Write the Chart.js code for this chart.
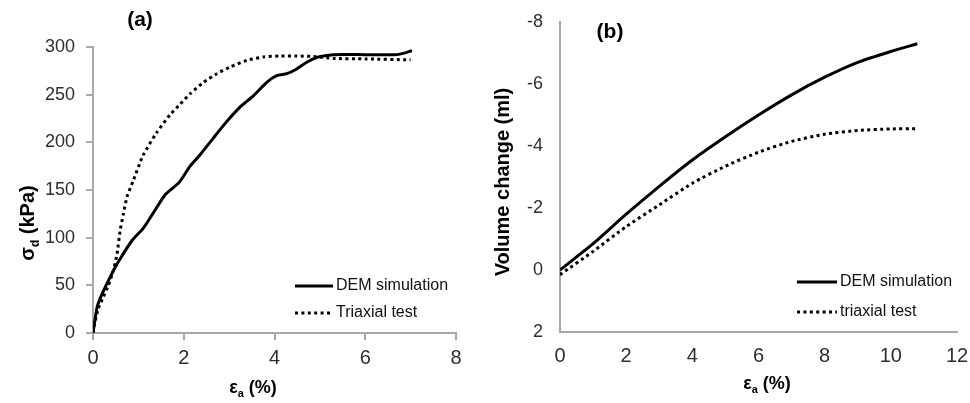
<!DOCTYPE html>
<html>
<head>
<meta charset="utf-8">
<script src="https://cdn.jsdelivr.net/npm/chart.js@4.4.1/dist/chart.umd.min.js"></script>
<style>
  html, body { margin: 0; padding: 0; background: #fff; }
  #wrap { position: relative; width: 970px; height: 403px; }
  .panel { position: absolute; top: 0; height: 403px; }
  #panelA { left: 0; width: 480px; }
  #panelB { left: 480px; width: 490px; }
</style>
</head>
<body>
<div id="wrap">
  <div class="panel" id="panelA"><canvas id="chartA"></canvas></div>
  <div class="panel" id="panelB"><canvas id="chartB"></canvas></div>
</div>
<script>
// panel (a): deviator stress vs axial strain
const strainDemA = [0, 0.09, 0.2, 0.34, 0.49, 0.64, 0.86, 1.11, 1.33, 1.59, 1.9, 2.14, 2.36, 2.66, 2.95, 3.24, 3.54, 3.83, 4.05, 4.27, 4.49, 4.71, 4.93, 5.15, 5.3, 6.0, 6.7, 7.03];
const stressDemA = [0, 27, 41, 55, 69, 81, 97, 110, 126, 145, 158, 175, 187, 205, 222, 237, 249, 263, 270, 272, 277, 284, 289, 291, 292, 292, 292, 296];
const strainTestA = [0, 0.05, 0.12, 0.23, 0.34, 0.45, 0.53, 0.6, 0.67, 0.75, 0.89, 1.1, 1.4, 1.7, 1.92, 2.14, 2.44, 2.73, 3.02, 3.39, 3.76, 4.13, 4.49, 4.86, 5.3, 6.0, 7.0];
const stressTestA = [0, 13, 26, 38, 50, 66, 83, 108, 125, 143, 160, 186, 210, 229, 240, 251, 263, 272, 279, 286, 289.6, 290.6, 290.6, 290, 288, 287.5, 286.5];
const xTicksA = [0, 2, 4, 6, 8];
const yTicksA = [0, 50, 100, 150, 200, 250, 300];

// panel (b): volume change vs axial strain
const strainB = [0, 1, 2, 3, 4, 5, 6, 7, 8, 9, 10, 10.8];
const volumeDemB = [0, -0.85, -1.8, -2.7, -3.55, -4.3, -5.0, -5.65, -6.22, -6.7, -7.05, -7.3];
const volumeTestB = [0.15, -0.6, -1.4, -2.1, -2.8, -3.35, -3.8, -4.15, -4.38, -4.5, -4.55, -4.56];
const xTicksB = [0, 2, 4, 6, 8, 10, 12];
const yTicksB = [-8, -6, -4, -2, 0, 2];

const fontFamily = "'Liberation Sans', Arial, sans-serif";
const axisGrey = "#a8a8a8";
const tickColor = "#2e2e2e";

function toPoints(xs, ys) {
  return xs.map((x, i) => ({ x, y: ys[i] }));
}

function drawTitle(ctx, t, rotate) {
  const big = `bold ${t.size}px ${fontFamily}`;
  const small = `bold ${Math.round(t.size * 0.62)}px ${fontFamily}`;
  ctx.font = big;
  const w1 = ctx.measureText(t.main).width;
  const w3 = ctx.measureText(t.rest || "").width;
  ctx.font = small;
  const w2 = ctx.measureText(t.sub || "").width;
  const total = w1 + w2 + w3;

  ctx.save();
  ctx.translate(t.x, t.y);
  if (rotate) {
    ctx.rotate(-Math.PI / 2);
  }
  ctx.textAlign = "left";
  ctx.textBaseline = "alphabetic";
  ctx.fillStyle = "#000";
  const base = t.size * 0.36;
  let x = -total / 2;
  ctx.font = big;
  ctx.fillText(t.main, x, base);
  x += w1;
  ctx.font = small;
  ctx.fillText(t.sub || "", x, base + t.size * 0.22);
  x += w2;
  ctx.font = big;
  ctx.fillText(t.rest || "", x, base);
  ctx.restore();
}

const panelText = {
  id: "panelText",
  afterDraw(chart, args, opts) {
    const ctx = chart.ctx;
    ctx.save();
    ctx.fillStyle = "#000";
    ctx.textAlign = "center";
    ctx.textBaseline = "middle";
    ctx.font = `bold 21px ${fontFamily}`;
    ctx.fillText(opts.letter.text, opts.letter.x, opts.letter.y);

    drawTitle(ctx, opts.xTitle, false);
    drawTitle(ctx, opts.yTitle, true);

    chart.data.datasets.forEach((ds, i) => {
      const y = opts.legend.rows[i];
      ctx.beginPath();
      ctx.setLineDash(ds.borderDash || []);
      ctx.lineWidth = ds.borderWidth;
      ctx.strokeStyle = ds.borderColor;
      ctx.moveTo(opts.legend.x0, y);
      ctx.lineTo(opts.legend.x1, y);
      ctx.stroke();
      ctx.setLineDash([]);
      ctx.font = `16px ${fontFamily}`;
      ctx.textAlign = "left";
      ctx.textBaseline = "middle";
      ctx.fillStyle = "#111";
      ctx.fillText(ds.label, opts.legend.x1 + 3, y);
    });
    ctx.restore();
  },
};

function lineSet(label, points, dotted) {
  return {
    label,
    data: points,
    borderColor: "#000",
    borderWidth: 3,
    borderDash: dotted ? [3, 3.4] : [],
    borderCapStyle: "butt",
    pointRadius: 0,
    tension: 0.2,
    fill: false,
  };
}

// keep the plot box where the reference has it, labels may overhang
function fixX(height) {
  return (scale) => {
    scale.height = height;
    scale.paddingLeft = 0;
    scale.paddingRight = 0;
  };
}

function fixY(width) {
  return (scale) => {
    scale.width = width;
    scale.paddingTop = 0;
    scale.paddingBottom = 0;
  };
}

new Chart(document.getElementById("chartA"), {
  type: "line",
  data: {
    datasets: [
      lineSet("DEM simulation", toPoints(strainDemA, stressDemA), false),
      lineSet("Triaxial test", toPoints(strainTestA, stressTestA), true),
    ],
  },
  options: {
    animation: false,
    responsive: true,
    maintainAspectRatio: false,
    layout: { padding: { top: 47, right: 24, left: 0, bottom: 0 } },
    plugins: {
      legend: { display: false },
      tooltip: { enabled: false },
      panelText: {
        letter: { text: "(a)", x: 140, y: 20 },
        xTitle: { main: "ε", sub: "a", rest: " (%)", x: 253, y: 387, size: 18 },
        yTitle: { main: "σ", sub: "d", rest: " (kPa)", x: 27, y: 223, size: 20 },
        legend: { x0: 295, x1: 333, rows: [286, 313] },
      },
    },
    scales: {
      x: {
        type: "linear",
        min: 0,
        max: 8,
        afterBuildTicks(scale) {
          scale.ticks = xTicksA.map((value) => ({ value }));
        },
        afterFit: fixX(70),
        grid: { display: true, drawOnChartArea: false, drawTicks: true, tickLength: 7, color: axisGrey, lineWidth: 2 },
        border: { display: true, color: axisGrey, width: 2 },
        ticks: { color: tickColor, font: { family: fontFamily, size: 20 }, padding: 6, maxRotation: 0 },
      },
      y: {
        min: 0,
        max: 300,
        afterBuildTicks(scale) {
          scale.ticks = yTicksA.map((value) => ({ value }));
        },
        afterFit: fixY(93),
        grid: { display: true, drawOnChartArea: false, drawTicks: true, tickLength: 7, color: axisGrey, lineWidth: 2 },
        border: { display: true, color: axisGrey, width: 2 },
        ticks: { color: tickColor, font: { family: fontFamily, size: 18 }, padding: 11 },
      },
    },
  },
  plugins: [panelText],
});

new Chart(document.getElementById("chartB"), {
  type: "line",
  data: {
    datasets: [
      lineSet("DEM simulation", toPoints(strainB, volumeDemB), false),
      lineSet("triaxial test", toPoints(strainB, volumeTestB), true),
    ],
  },
  options: {
    animation: false,
    responsive: true,
    maintainAspectRatio: false,
    layout: { padding: { top: 22, right: 13, left: 0, bottom: 0 } },
    plugins: {
      legend: { display: false },
      tooltip: { enabled: false },
      panelText: {
        letter: { text: "(b)", x: 130, y: 32 },
        xTitle: { main: "ε", sub: "a", rest: " (%)", x: 287, y: 383, size: 18 },
        yTitle: { main: "Volume change (ml)", x: 22, y: 182, size: 20 },
        legend: { x0: 317, x1: 357, rows: [282, 312] },
      },
    },
    scales: {
      x: {
        type: "linear",
        min: 0,
        max: 12,
        afterBuildTicks(scale) {
          scale.ticks = xTicksB.map((value) => ({ value }));
        },
        afterFit: fixX(71),
        grid: { display: false, drawTicks: false },
        border: { display: true, color: axisGrey, width: 2 },
        ticks: { color: tickColor, font: { family: fontFamily, size: 20 }, padding: 12, maxRotation: 0 },
      },
      y: {
        reverse: true,
        min: -8,
        max: 2,
        afterBuildTicks(scale) {
          scale.ticks = yTicksB.map((value) => ({ value }));
        },
        afterFit: fixY(80),
        grid: { display: false, drawTicks: false },
        border: { display: true, color: axisGrey, width: 2 },
        ticks: { color: tickColor, font: { family: fontFamily, size: 18 }, padding: 17 },
      },
    },
  },
  plugins: [panelText],
});
</script>
</body>
</html>
